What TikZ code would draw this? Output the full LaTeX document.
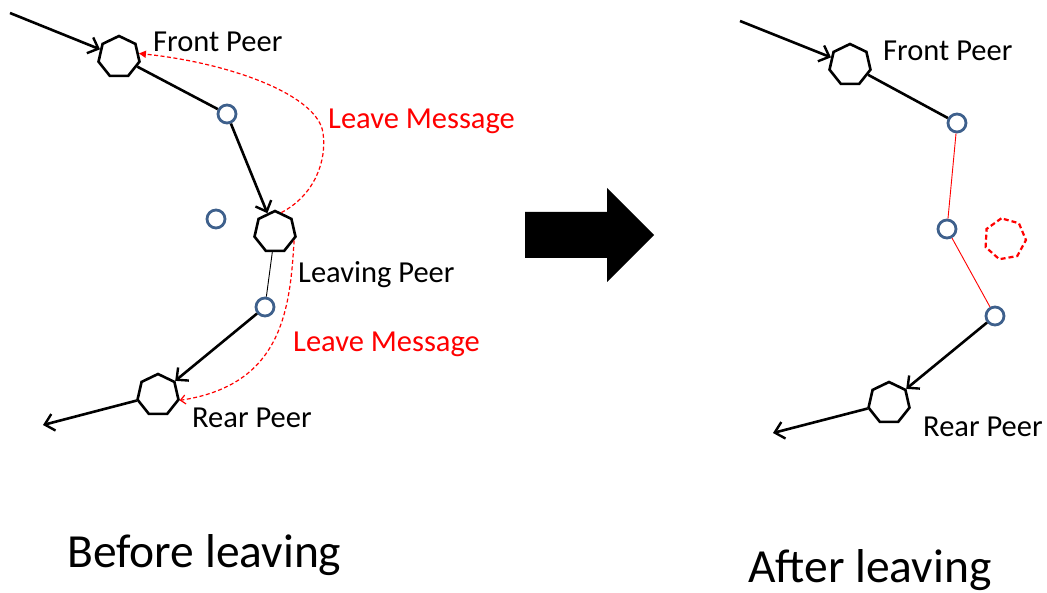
\documentclass[tikz,border=0pt]{standalone}
\usepackage{fontspec}
\setmainfont{Carlito}
\usetikzlibrary{shapes.geometric,arrows.meta}
\definecolor{peerblue}{RGB}{62,96,140}
\definecolor{msgred}{RGB}{255,0,0}
\tikzset{
  peer/.style={regular polygon,regular polygon sides=7,draw=black,line width=2.6pt,inner sep=0pt,minimum size=42pt},
  gone/.style={regular polygon,regular polygon sides=7,draw=msgred,line width=2.2pt,dash pattern=on 5pt off 3pt,inner sep=0pt,minimum size=42pt,shape border rotate=10},
  hop/.style={circle,draw=peerblue,line width=2.8pt,inner sep=0pt,minimum size=18pt},
  link/.style={line width=2.6pt,black},
  larrow/.style={link,-{Straight Barb[length=9pt,width=17pt,line width=2.4pt]}},
  thin/.style={line width=0.9pt,black},
  redlink/.style={line width=0.9pt,msgred},
  msg/.style={msgred,line width=1.2pt,dash pattern=on 4pt off 2.5pt},
  lbl/.style={anchor=base west,inner sep=0pt,font=\fontsize{30.5}{34}\selectfont},
  rlbl/.style={lbl,text=msgred,font=\fontsize{30.5}{34}\selectfont},
  big/.style={anchor=base west,inner sep=0pt,font=\fontsize{47.5}{52}\selectfont},
}
\begin{document}
\begin{tikzpicture}[x=1pt,y=-1pt]
\useasboundingbox (0,0) rectangle (1047,593);
% ---------- left: before leaving ----------
\coordinate (inL) at (10,13);
\coordinate (outL) at (43,425);
\node[peer] (fp) at (119,57) {};
\node[hop] (c1) at (227,114) {};
\node[hop] (c0) at (216,219) {};
\node[peer] (lp) at (275,232) {};
\node[hop] (c2) at (265,307) {};
\node[peer] (rp) at (158,395) {};
\draw[larrow] (inL) -- (fp);
\draw[link] (fp) -- (c1);
\draw[larrow] (c1) -- (lp);
\draw[thin] (lp) -- (c2);
\draw[larrow] (c2) -- (rp);
\draw[larrow] (rp) -- (outL);
\draw[msg,-{Triangle[length=7pt,width=7pt]}] (lp.72) .. controls (315,195) and (327,160) .. (323,133) .. controls (318,95) and (230,63) .. (fp.10);
\draw[msg,-{Straight Barb[length=5pt,width=9pt,line width=1.2pt]}] (lp.-24) .. controls (290,310) and (282,385) .. (rp.-14);
\node[lbl] (fpl) at (153,52) {Front Peer};
\node[lbl] (lpl) at (298,283) {Leaving Peer};
\node[lbl] (rpl) at (192,428) {Rear Peer};
\node[rlbl] (m1) at (328,129) {Leave Message};
\node[rlbl] (m2) at (293,352) {Leave Message};
\node[big] (bl) at (67,567) {Before leaving};
% ---------- big arrow ----------
\fill[black] (525,212) -- (607,212) -- (607,188) -- (654,235) -- (607,282) -- (607,258) -- (525,258) -- cycle;
% ---------- right: after leaving ----------
\coordinate (inR) at (740,21);
\coordinate (outR) at (773,433);
\node[peer] (fp2) at (850,65) {};
\node[hop] (d1) at (957,123) {};
\node[hop] (d2) at (947,229) {};
\node[hop] (d3) at (995,316) {};
\node[peer] (rp2) at (889,403) {};
\node[gone] (gp) at (1005,239) {};
\draw[larrow] (inR) -- (fp2);
\draw[link] (fp2) -- (d1);
\draw[redlink] (d1) -- (d2);
\draw[redlink] (d2) -- (d3);
\draw[larrow] (d3) -- (rp2);
\draw[larrow] (rp2) -- (outR);
\node[lbl] (fpl2) at (883,61) {Front Peer};
\node[lbl] (rpl2) at (923,437) {Rear Peer};
\node[big] (al) at (748,582) {After leaving};
\end{tikzpicture}
\end{document}
